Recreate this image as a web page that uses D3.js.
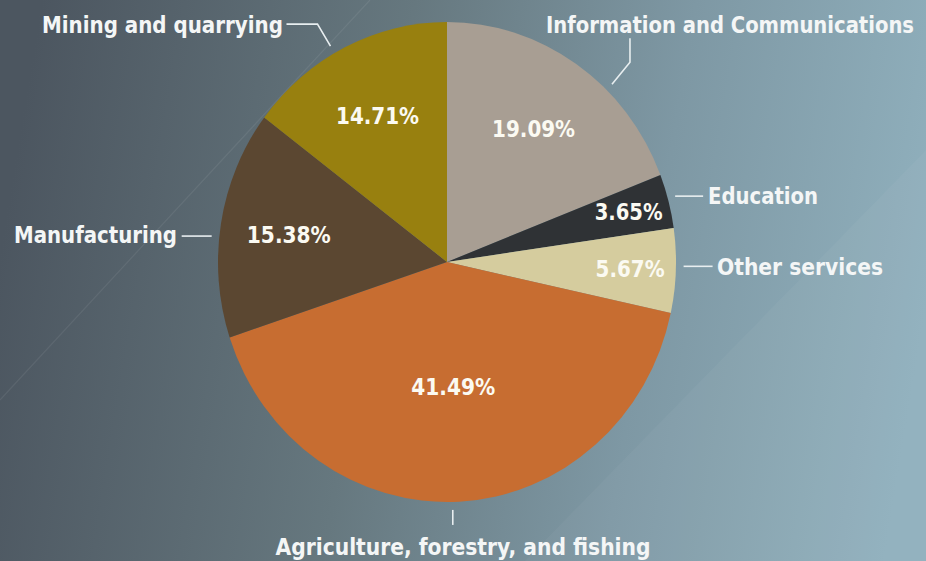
<!DOCTYPE html>
<html><head><meta charset="utf-8">
<script src="https://cdn.jsdelivr.net/npm/d3@7/dist/d3.min.js"></script>
<style>html,body{margin:0;padding:0;overflow:hidden;}svg{display:block;}</style>
</head><body>
<script>
const categories = ["Information and Communications","Education","Other services","Agriculture, forestry, and fishing","Manufacturing","Mining and quarrying"];
const values = [19.09, 3.65, 5.67, 41.49, 15.38, 14.71];
const colors = ["#a89e93","#2f3235","#d5cc9e","#c76d31","#5b4731","#98800f"];
const labelRadius = [0.67, 0.82, 0.80, 0.52, 0.70, 0.68];

const W = 926, H = 561;
const cx = 447, cy = 262, R = 240, sx = 229/240;
const FONT = "'DejaVu Sans Condensed','Liberation Sans Narrow',sans-serif";

const svg = d3.select("body").append("svg").attr("width", W).attr("height", H);
const defs = svg.append("defs");
const g1 = defs.append("linearGradient").attr("id","bg").attr("x1","0").attr("y1","0.45").attr("x2","1").attr("y2","0.55");
g1.append("stop").attr("offset","0").attr("stop-color","#4c5660");
g1.append("stop").attr("offset","0.4").attr("stop-color","#66787f");
g1.append("stop").attr("offset","0.7").attr("stop-color","#7e98a4");
g1.append("stop").attr("offset","1").attr("stop-color","#90b0bd");
svg.append("rect").attr("width",W).attr("height",H).attr("fill","url(#bg)");
// faint diagonal bands
svg.append("path").attr("d","M525,561 L926,150 L926,561 Z").attr("fill","#ffffff").attr("opacity",0.035);
svg.append("line").attr("x1",0).attr("y1",400).attr("x2",370).attr("y2",0).attr("stroke","#ffffff").attr("stroke-opacity",0.07).attr("stroke-width",1.2);

const pie = d3.pie().sort(null).value(d => d)(values);
const arc = d3.arc().innerRadius(0).outerRadius(R);

const pg = svg.append("g").attr("transform", `translate(${cx},${cy}) scale(${sx},1)`);
pg.selectAll("path").data(pie).join("path")
  .attr("d", arc).attr("fill", (d,i) => colors[i]);

function pt(angle, r){ return [cx + Math.sin(angle)*r*sx, cy - Math.cos(angle)*r]; }

// percentage labels
const pctW = [83, 68, 69, 84, 84, 83];
svg.selectAll("text.pct").data(pie).join("text").attr("class","pct")
  .each(function(d,i){
    const a = (d.startAngle + d.endAngle)/2;
    const p = pt(a, R*labelRadius[i]);
    d3.select(this).attr("x", p[0]).attr("y", p[1]);
  })
  .attr("text-anchor","middle").attr("dominant-baseline","central")
  .attr("font-family", FONT).attr("font-weight","bold").attr("font-size", 23)
  .attr("fill", "#fbfaf2")
  .attr("textLength", (d,i) => pctW[i]).attr("lengthAdjust","spacingAndGlyphs")
  .text(d => d.data.toFixed(2) + "%");

// leader lines + category labels
const leaders = [
  {a: 44.2, pts: [[0,0],[18,-22],[18,-46]], tx:[914,25], anchor:"end"},
  {a: 74.6, pts: [[0,0],[28,0]], tx:[708,196], anchor:"start"},
  {a: 91.0, pts: [[0,0],[29,0]], tx:[717,267], anchor:"start"},
  {a: 178.6, pts: [[0,0],[0,15]], tx:[463,547], anchor:"middle"},
  {a: 276, pts: [[0,0],[-30,0]], tx:[177,235], anchor:"end"},
  {a: 330.5, pts: [[0,0],[-13,-22],[-44,-22]], tx:[283,25], anchor:"end"}
];
const widths = [368, 110, 166, 375, 163, 241];
leaders.forEach((L,i) => {
  const s = pt(L.a*Math.PI/180, 248);
  const line = d3.line()(L.pts.map(q => [s[0]+q[0], s[1]+q[1]]));
  svg.append("path").attr("d", line).attr("fill","none")
    .attr("stroke","#e8eef0").attr("stroke-width",1.6);
  svg.append("text").attr("x", L.tx[0]).attr("y", L.tx[1])
    .attr("text-anchor", L.anchor).attr("dominant-baseline","central")
    .attr("font-family", FONT).attr("font-weight","bold").attr("font-size", i===0 ? 22.5 : 23)
    .attr("fill","#f4f6f6")
    .attr("textLength", widths[i]).attr("lengthAdjust","spacingAndGlyphs")
    .text(categories[i]);
});
</script>
</body></html>
